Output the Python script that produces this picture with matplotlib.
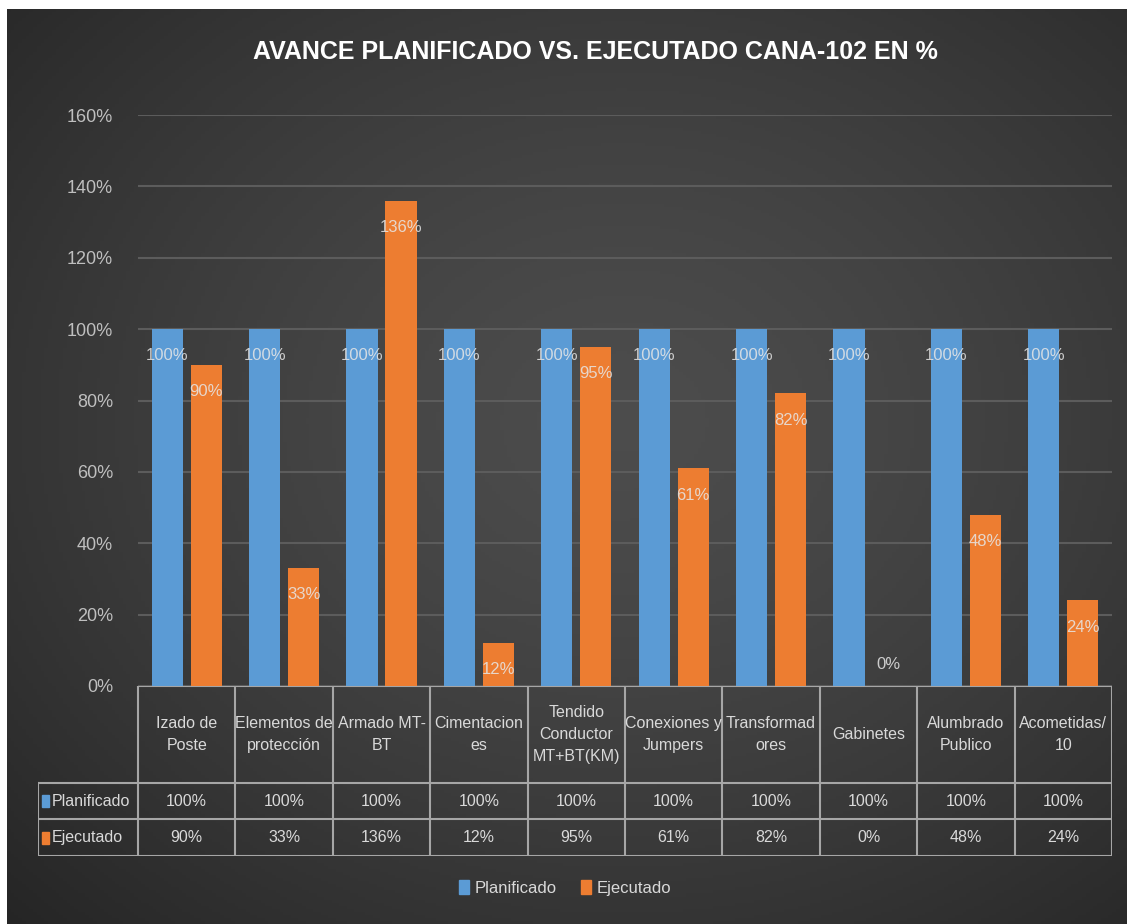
import numpy as np
import matplotlib.pyplot as plt
from matplotlib.patches import Rectangle

categories = ["Izado de\nPoste", "Elementos de\nprotección", "Armado MT-\nBT",
              "Cimentacion\nes", "Tendido\nConductor\nMT+BT(KM)", "Conexiones y\nJumpers",
              "Transformad\nores", "Gabinetes", "Alumbrado\nPublico", "Acometidas/\n10"]
planificado = [100, 100, 100, 100, 100, 100, 100, 100, 100, 100]
ejecutado = [90, 33, 136, 12, 95, 61, 82, 0, 48, 24]
series_names = ["Planificado", "Ejecutado"]

BLUE = "#5b9bd5"
ORANGE = "#ed7d31"
TXT = "#d9d9d9"
plt.rcParams['font.family'] = ["Liberation Sans", "DejaVu Sans"]

W, H = 1127, 924
fig = plt.figure(figsize=(W / 100, H / 100), dpi=100)
fig.patch.set_facecolor("white")

# dark radial-gradient background (thin white strip at top/left)
bg = fig.add_axes([7 / W, 0, 1 - 7 / W, 1 - 9 / H])
yy, xx = np.mgrid[0:1:300j, 0:1:300j]
r = np.sqrt(((xx - 0.55) / 0.8) ** 2 + ((yy - 0.45) / 0.8) ** 2)
val = np.clip(0.30 - 0.16 * r ** 1.4, 0.14, 0.3)
bg.imshow(np.dstack([val, val, val]), aspect="auto", extent=[0, 1, 0, 1])
bg.axis("off")


def fx(px):
    return px / W


def fy(py):
    return 1 - py / H


left, right, top, bottom = 138, 1112, 115, 686
ax = fig.add_axes([fx(left), fy(bottom), fx(right) - fx(left), fy(top) - fy(bottom)])
ax.patch.set_alpha(0)
x = np.arange(len(categories))
bw = 0.32
b1 = ax.bar(x - 0.2, planificado, bw, color=BLUE, zorder=3)
b2 = ax.bar(x + 0.2, ejecutado, bw, color=ORANGE, zorder=3)
for bars, vals in ((b1, planificado), (b2, ejecutado)):
    for rect, v in zip(bars, vals):
        yl = v - 7.5 if v > 10 else v + 6
        ax.text(rect.get_x() + rect.get_width() / 2, yl, f"{v}%", ha="center", va="center",
                color="#e6e6e6", alpha=0.85, fontsize=12, zorder=4)
ax.set_xlim(-0.5, len(categories) - 0.5)
ax.set_ylim(0, 160)
ax.set_yticks(np.arange(0, 161, 20))
ax.set_yticklabels([f"{t}%" for t in range(0, 161, 20)], color="#bfbfbf", fontsize=13)
ax.set_xticks([])
ax.tick_params(axis="y", length=0, pad=18)
ax.grid(axis="y", color="#5c5c5c", lw=1.5, zorder=0)
for s in ax.spines.values():
    s.set_visible(False)

fig.text(fx(595), fy(52), "AVANCE PLANIFICADO VS. EJECUTADO CANA-102 EN %", color="white",
         fontsize=18, fontweight="bold", ha="center", va="center")

# data table drawn below the plot
unit = (right - left) / len(categories)
tl = 38
tab = fig.add_axes([fx(tl), fy(856), fx(right) - fx(tl), fy(686) - fy(856)])
tab.axis("off")
x0 = -0.5 - (left - tl) / unit
tab.set_xlim(x0, len(categories) - 0.5)
tab.set_ylim(856, 686)
lc = "#a6a6a6"
rows_y = [686, 783, 819, 856]
tab.plot([-0.5, len(categories) - 0.5], [686, 686], color=lc, lw=1.5)
for yv in rows_y[1:]:
    tab.plot([x0, len(categories) - 0.5], [yv, yv], color=lc, lw=1.5)
for i in range(len(categories) + 1):
    tab.plot([i - 0.5, i - 0.5], [686, 856], color=lc, lw=1.5)
tab.plot([x0, x0], [783, 856], color=lc, lw=1.5)
for i, c in enumerate(categories):
    tab.text(i, 734.5, c, ha="center", va="center", color=TXT, fontsize=11.5, linespacing=1.6)
    tab.text(i, 801, f"{planificado[i]}%", ha="center", va="center", color=TXT, fontsize=11.5)
    tab.text(i, 837.5, f"{ejecutado[i]}%", ha="center", va="center", color=TXT, fontsize=11.5)
for yv, name, col in ((801, series_names[0], BLUE), (837.5, series_names[1], ORANGE)):
    tab.add_patch(Rectangle((x0 + 0.04, yv - 6), 0.07, 12, color=col))
    tab.text(x0 + 0.14, yv, name, ha="left", va="center", color=TXT, fontsize=11.5)

handles = [Rectangle((0, 0), 1, 1, color=BLUE), Rectangle((0, 0), 1, 1, color=ORANGE)]
fig.legend(handles, series_names, loc="center", bbox_to_anchor=(fx(565), fy(888)), ncol=2,
           frameon=False, fontsize=12, labelcolor=TXT, handlelength=0.6, handleheight=0.9,
           handletextpad=0.3, columnspacing=1.5)

fig.savefig("out.png", dpi=100, facecolor=fig.get_facecolor())
